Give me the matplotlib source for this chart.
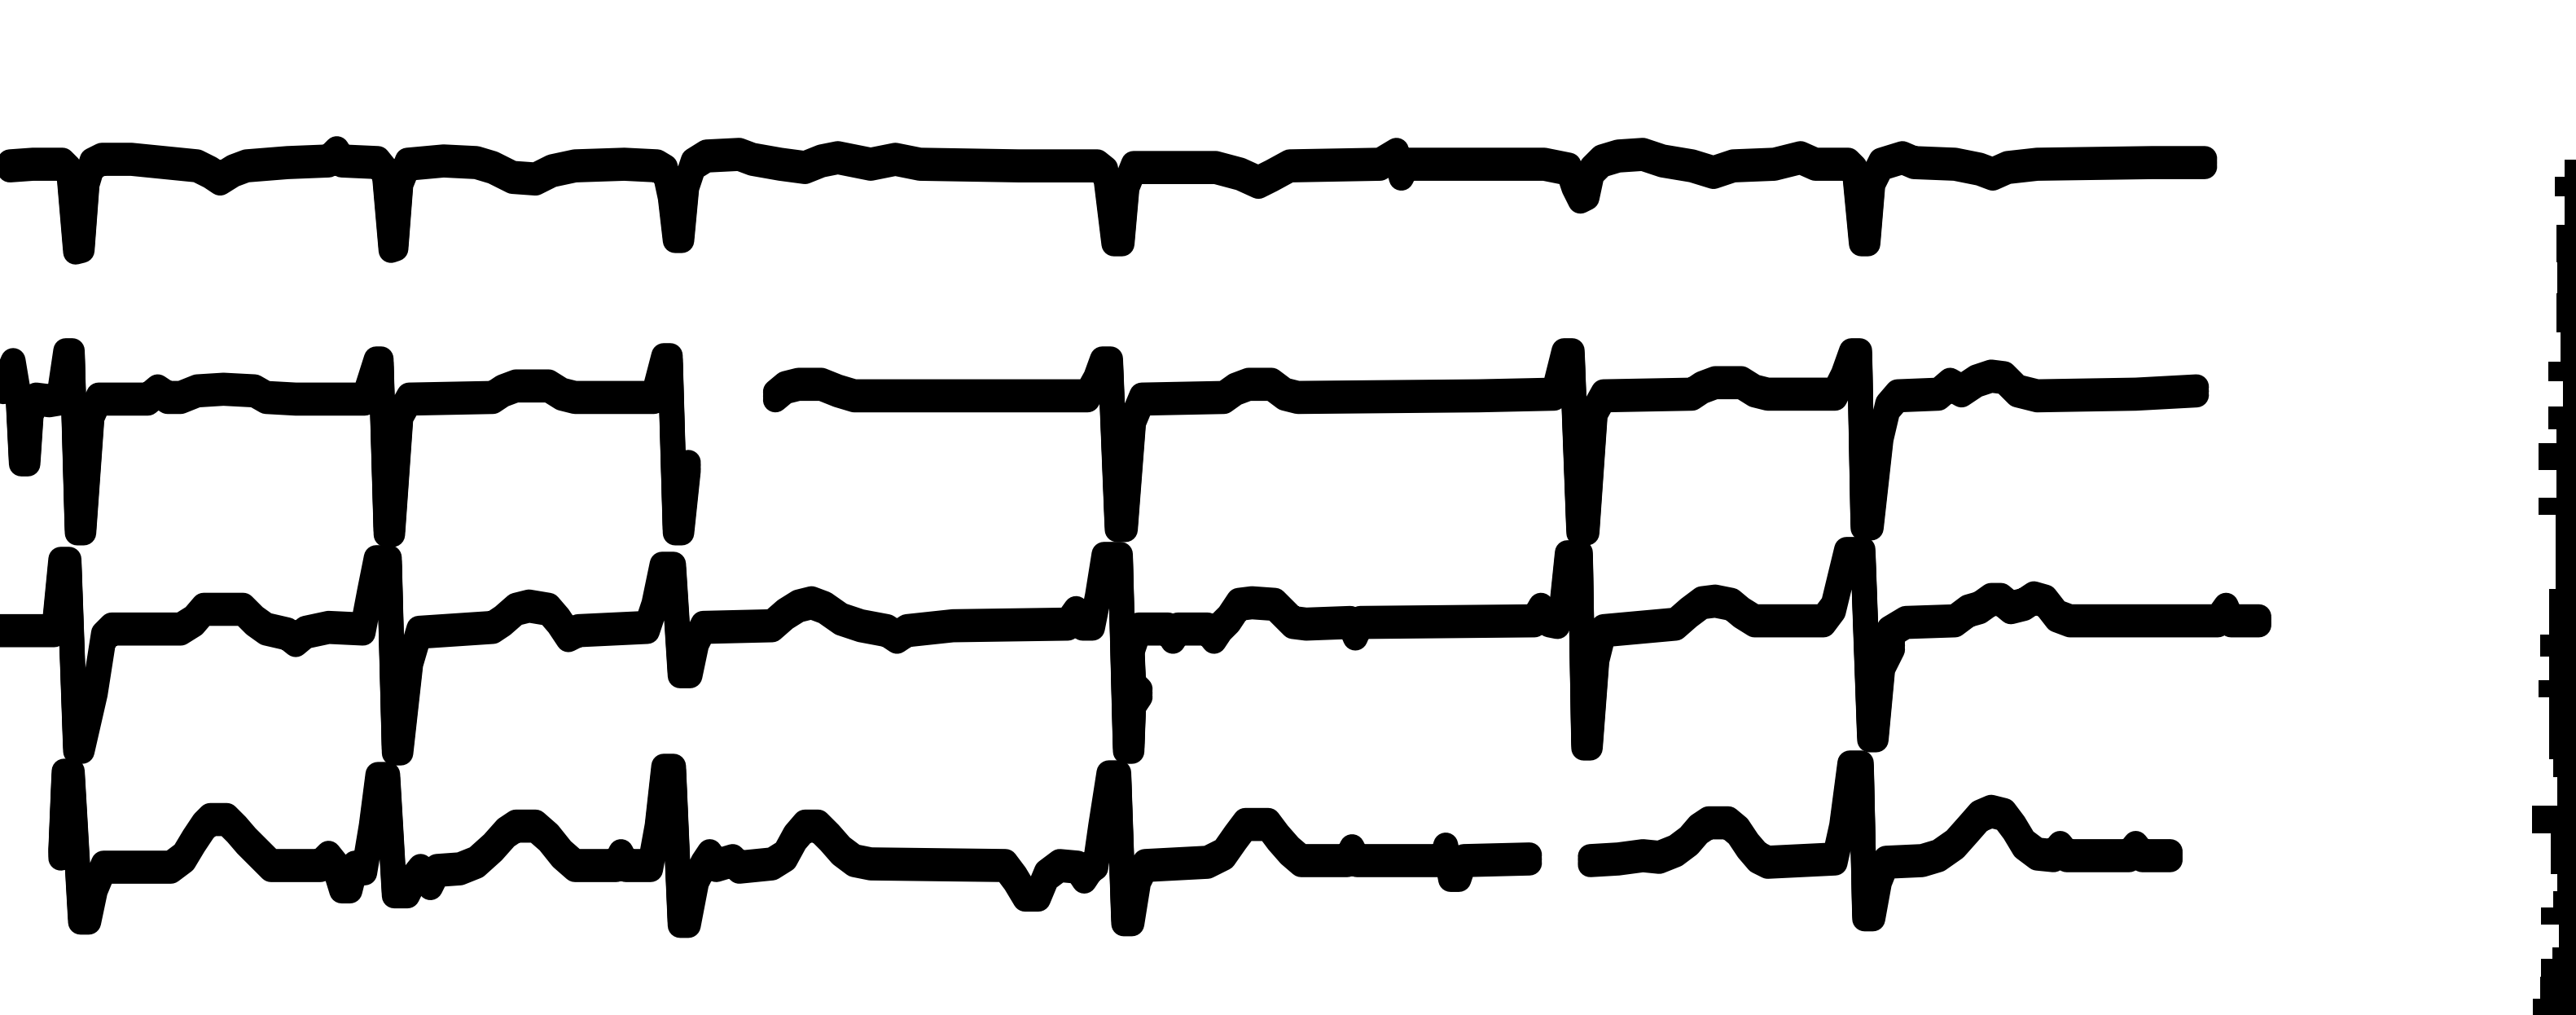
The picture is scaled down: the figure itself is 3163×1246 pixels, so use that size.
import numpy as np
import matplotlib
matplotlib.use("Agg")
import matplotlib.pyplot as plt

# ============================================================================
# TRACE DATA  (time in ms, amplitude in mV relative to the row baseline)
# ============================================================================

ROW1_POINTS = [
    (48, 0.00), (160, 0.02), (304, 0.02), (336, -0.06), (368, -1.00), (400, -0.98), (424, -0.18), (448, 0.02),
    (496, 0.08), (640, 0.08), (800, 0.04), (960, 0.00), (1024, -0.08), (1072, -0.16), (1136, -0.06), (1200, 0.00),
    (1400, 0.04), (1600, 0.06), (1640, 0.16), (1664, 0.06), (1840, 0.04), (1872, -0.06), (1904, -0.98), (1928, -0.96),
    (1952, -0.18), (1984, 0.02), (2160, 0.06), (2320, 0.04), (2400, -0.02), (2496, -0.14), (2608, -0.16), (2688, -0.06),
    (2800, 0.00), (3040, 0.02), (3200, 0.00), (3240, -0.06), (3264, -0.34), (3288, -0.86), (3320, -0.86), (3344, -0.22),
    (3376, 0.02), (3440, 0.12), (3600, 0.14), (3664, 0.08), (3800, 0.02), (3920, -0.02), (4000, 0.06), (4080, 0.10),
    (4240, 0.02), (4360, 0.08), (4480, 0.02), (4960, 0.00), (5344, 0.00), (5384, -0.08), (5424, -0.90), (5464, -0.90),
    (5488, -0.22), (5520, -0.02), (5920, -0.02), (6040, -0.10), (6128, -0.20), (6192, -0.12), (6280, 0.00), (6720, 0.02),
    (6800, 0.14), (6824, -0.10), (6848, 0.02), (7520, 0.02), (7640, -0.04), (7664, -0.22), (7696, -0.38), (7728, -0.34),
    (7752, -0.06), (7800, 0.06), (7880, 0.12), (8000, 0.14), (8096, 0.06), (8240, 0.00), (8344, -0.08), (8440, 0.00),
    (8640, 0.02), (8768, 0.10), (8840, 0.02), (9000, 0.02), (9032, -0.06), (9064, -0.90), (9096, -0.90), (9120, -0.18),
    (9160, 0.02), (9264, 0.10), (9320, 0.04), (9520, 0.02), (9640, -0.04), (9704, -0.10), (9776, -0.02), (9920, 0.02),
    (10480, 0.04), (10736, 0.04),
]

ROW2_POINTS_A = [
    (16, 0.14), (64, 0.42), (88, 0.06), (104, -0.74), (136, -0.74), (152, -0.14), (176, 0.00), (240, -0.02),
    (288, 0.00), (320, 0.54), (352, 0.54), (376, -1.58), (408, -1.58), (448, -0.18), (480, 0.00), (720, 0.00),
    (768, 0.10), (816, 0.02), (880, 0.02), (960, 0.10), (1088, 0.12), (1240, 0.10), (1296, 0.02), (1440, 0.00),
    (1776, 0.00), (1832, 0.44), (1856, 0.44), (1880, -1.60), (1912, -1.60), (1952, -0.18), (1992, 0.00), (2400, 0.02),
    (2448, 0.10), (2512, 0.16), (2672, 0.16), (2736, 0.06), (2800, 0.02), (3184, 0.02), (3232, 0.48), (3264, 0.48),
    (3288, -1.58), (3320, -1.58), (3352, -0.82),
]

ROW2_POINTS_B = [
    (3776, 0.04), (3824, 0.14), (3888, 0.18), (4000, 0.18), (4080, 0.10), (4160, 0.04), (5296, 0.04), (5336, 0.22),
    (5368, 0.44), (5408, 0.44), (5440, -1.54), (5480, -1.54), (5520, -0.24), (5560, 0.00), (5960, 0.02), (6016, 0.12),
    (6080, 0.18), (6192, 0.18), (6256, 0.06), (6320, 0.02), (7200, 0.04), (7568, 0.06), (7616, 0.54), (7656, 0.54),
    (7688, -1.58), (7728, -1.58), (7768, -0.14), (7808, 0.04), (8240, 0.06), (8288, 0.14), (8352, 0.20), (8480, 0.20),
    (8544, 0.10), (8608, 0.06), (8936, 0.06), (8976, 0.26), (9016, 0.54), (9056, 0.54), (9072, -1.52), (9112, -1.52),
    (9160, -0.44), (9192, -0.10), (9240, 0.04), (9440, 0.06), (9496, 0.18), (9552, 0.10), (9624, 0.22), (9696, 0.28),
    (9760, 0.26), (9824, 0.10), (9920, 0.04), (10400, 0.06), (10696, 0.10),
]

ROW3_POINTS = [
    (0, 0.00), (264, 0.00), (296, 0.82), (336, 0.82), (368, -1.42), (400, -1.42), (464, -0.72), (504, -0.08),
    (544, 0.02), (880, 0.02), (944, 0.12), (992, 0.26), (1184, 0.26), (1240, 0.12), (1296, 0.02), (1400, -0.04),
    (1440, -0.12), (1488, -0.02), (1600, 0.04), (1768, 0.02), (1800, 0.44), (1832, 0.84), (1896, 0.84), (1920, -1.44),
    (1952, -1.44), (2000, -0.36), (2040, -0.02), (2400, 0.04), (2448, 0.12), (2512, 0.26), (2576, 0.30), (2672, 0.26),
    (2720, 0.12), (2768, -0.06), (2816, 0.00), (3152, 0.04), (3184, 0.28), (3224, 0.76), (3280, 0.76), (3312, -0.50),
    (3360, -0.50), (3392, -0.12), (3424, 0.04), (3760, 0.06), (3824, 0.20), (3888, 0.30), (3952, 0.34), (4016, 0.28),
    (4096, 0.14), (4192, 0.06), (4320, 0.00), (4368, -0.08), (4416, 0.00), (4640, 0.06), (5200, 0.08), (5240, 0.22),
    (5272, 0.08), (5320, 0.08), (5344, 0.38), (5376, 0.88), (5456, 0.88), (5480, -1.42), (5512, -1.42), (5520, -0.88),
    (5552, -0.76), (5520, -0.68), (5512, -0.22), (5544, 0.02), (5688, 0.02), (5712, -0.08), (5736, 0.02), (5880, 0.02),
    (5912, -0.08), (5944, 0.04), (5984, 0.14), (6032, 0.32), (6096, 0.34), (6208, 0.32), (6256, 0.20), (6296, 0.10),
    (6360, 0.08), (6576, 0.10), (6600, -0.04), (6624, 0.10), (7472, 0.12), (7504, 0.26), (7544, 0.12), (7584, 0.10),
    (7608, 0.32), (7632, 0.90), (7696, 0.90), (7712, -1.38), (7744, -1.38), (7776, -0.32), (7808, 0.00), (8160, 0.08),
    (8224, 0.22), (8288, 0.34), (8352, 0.36), (8432, 0.32), (8480, 0.22), (8544, 0.12), (8880, 0.12), (8928, 0.28),
    (8992, 0.94), (9072, 0.94), (9104, -1.28), (9136, -1.28), (9168, -0.42), (9216, -0.18), (9200, -0.02), (9280, 0.10),
    (9520, 0.12), (9584, 0.24), (9640, 0.28), (9696, 0.38), (9744, 0.38), (9792, 0.28), (9856, 0.32), (9904, 0.40),
    (9960, 0.36), (10016, 0.18), (10080, 0.12), (10800, 0.12), (10840, 0.26), (10864, 0.12), (11000, 0.12),
]

ROW4_POINTS_A = [
    (296, 0.12), (312, 1.08), (352, 1.08), (392, -0.66), (432, -0.66), (464, -0.28), (504, -0.04), (832, -0.04),
    (896, 0.08), (944, 0.28), (992, 0.46), (1024, 0.54), (1104, 0.54), (1152, 0.42), (1200, 0.28), (1264, 0.12),
    (1320, -0.02), (1560, -0.02), (1600, 0.08), (1632, -0.02), (1664, -0.28), (1704, -0.28), (1728, -0.04), (1776, -0.06),
    (1808, 0.42), (1840, 1.04), (1888, 1.04), (1920, -0.34), (1984, -0.34), (2016, -0.18), (2048, -0.08),
    (2096, -0.24), (2128, -0.08), (2240, -0.06), (2320, 0.02), (2400, 0.20), (2464, 0.38), (2512, 0.46), (2608, 0.46),
    (2672, 0.32), (2736, 0.12), (2800, -0.02), (3000, -0.02), (3024, 0.10), (3048, -0.02), (3168, -0.02), (3200, 0.42),
    (3232, 1.14), (3280, 1.14), (3312, -0.70), (3352, -0.70), (3392, -0.18), (3424, -0.02), (3456, 0.10), (3488, -0.02),
    (3568, 0.04), (3600, -0.04), (3760, 0.00), (3824, 0.10), (3872, 0.32), (3920, 0.46), (3984, 0.46), (4040, 0.32),
    (4096, 0.16), (4160, 0.04), (4240, 0.00), (4896, -0.02), (4944, -0.18), (4992, -0.38), (5056, -0.38), (5096, -0.14),
    (5160, -0.02), (5248, -0.04), (5280, -0.16), (5312, -0.04), (5336, 0.00), (5360, 0.42), (5400, 1.06), (5448, 1.06),
    (5472, -0.68), (5512, -0.68), (5544, -0.18), (5576, -0.02), (5880, 0.02), (5960, 0.12), (6016, 0.32), (6064, 0.48),
    (6176, 0.48), (6224, 0.32), (6280, 0.16), (6336, 0.04), (6560, 0.04), (6584, 0.16), (6608, 0.04), (7024, 0.04),
    (7040, 0.18), (7064, -0.14), (7104, -0.14), (7128, 0.04), (7448, 0.06),
]

ROW4_POINTS_B = [
    (7744, 0.04), (7880, 0.06), (8000, 0.10), (8080, 0.08), (8160, 0.16), (8224, 0.28), (8272, 0.42), (8320, 0.50),
    (8416, 0.50), (8464, 0.40), (8512, 0.22), (8560, 0.08), (8608, 0.02), (8936, 0.06), (8968, 0.42), (9008, 1.18),
    (9064, 1.18), (9080, -0.62), (9120, -0.62), (9152, -0.18), (9184, 0.02), (9360, 0.04), (9440, 0.10), (9520, 0.24),
    (9584, 0.42), (9640, 0.58), (9696, 0.64), (9760, 0.60), (9808, 0.44), (9856, 0.24), (9920, 0.12), (10000, 0.10),
    (10032, 0.20), (10064, 0.10), (10368, 0.10), (10400, 0.20), (10432, 0.10), (10568, 0.10),
]

# baseline of each strip (mV, shared vertical scale)
ROW_OFFSETS_MV = [0.0, -2.84, -5.66, -8.50]

# partial strip cut off at the right margin: level boundaries and left edge
EDGE_BOUNDS_MV = [0.08, -0.13, -0.37, -0.72, -1.17, -1.55, -2.03, -2.38, -2.62, -2.93, -3.21,
                  -3.38, -3.70, -4.04, -4.25, -5.15, -5.71, -5.98, -6.26, -6.47, -7.23, -7.44,
                  -7.79, -8.13, -8.62, -8.83, -9.03, -9.24, -9.52, -9.66, -9.87, -10.14, -10.34]
EDGE_LEFT_MS = [12487, 12441, 12487, 12447, 12454, 12447, 12467, 12408, 12480, 12408, 12447,
                12361, 12447, 12361, 12443, 12414, 12368, 12414, 12361, 12414, 12434, 12454,
                12328, 12421, 12454, 12434, 12375, 12461, 12428, 12375, 12368, 12335]

TRACE_SEGMENTS = [
    (0, ROW1_POINTS),
    (1, ROW2_POINTS_A), (1, ROW2_POINTS_B),
    (2, ROW3_POINTS),
    (3, ROW4_POINTS_A), (3, ROW4_POINTS_B),
]

X_RANGE_MS = (0, 12544)
Y_RANGE_MV = (-10.34, 2.02)
PEN_WIDTH = 22.0      # points
PEN_SPREAD_MV = 0.05  # the pen is taller than it is wide


def draw_trace(ax, row, points):
    arr = np.array(points, dtype=float)
    t = arr[:, 0] / 1000.0
    v = arr[:, 1] + ROW_OFFSETS_MV[row]
    for dv in (-PEN_SPREAD_MV, 0.0, PEN_SPREAD_MV):
        ax.plot(t, v + dv, color='black', linewidth=PEN_WIDTH,
                solid_capstyle='round', solid_joinstyle='round')


def draw_edge_strip(ax):
    bounds = np.array(EDGE_BOUNDS_MV)
    left = np.array(EDGE_LEFT_MS + EDGE_LEFT_MS[-1:], dtype=float) / 1000.0
    ax.fill_betweenx(bounds, left, X_RANGE_MS[1] / 1000.0, step='post',
                     color='black', linewidth=0)


def main():
    fig = plt.figure(figsize=(31.63, 12.46), dpi=100)
    ax = fig.add_axes([0, 0, 1, 1])
    ax.set_facecolor('white')
    for row, pts in TRACE_SEGMENTS:
        draw_trace(ax, row, pts)
    draw_edge_strip(ax)
    ax.set_xlim(X_RANGE_MS[0] / 1000.0, X_RANGE_MS[1] / 1000.0)
    ax.set_ylim(*Y_RANGE_MV)
    ax.axis('off')
    fig.savefig('out.png', dpi=100, facecolor='white')
    plt.close(fig)


if __name__ == '__main__':
    main()
